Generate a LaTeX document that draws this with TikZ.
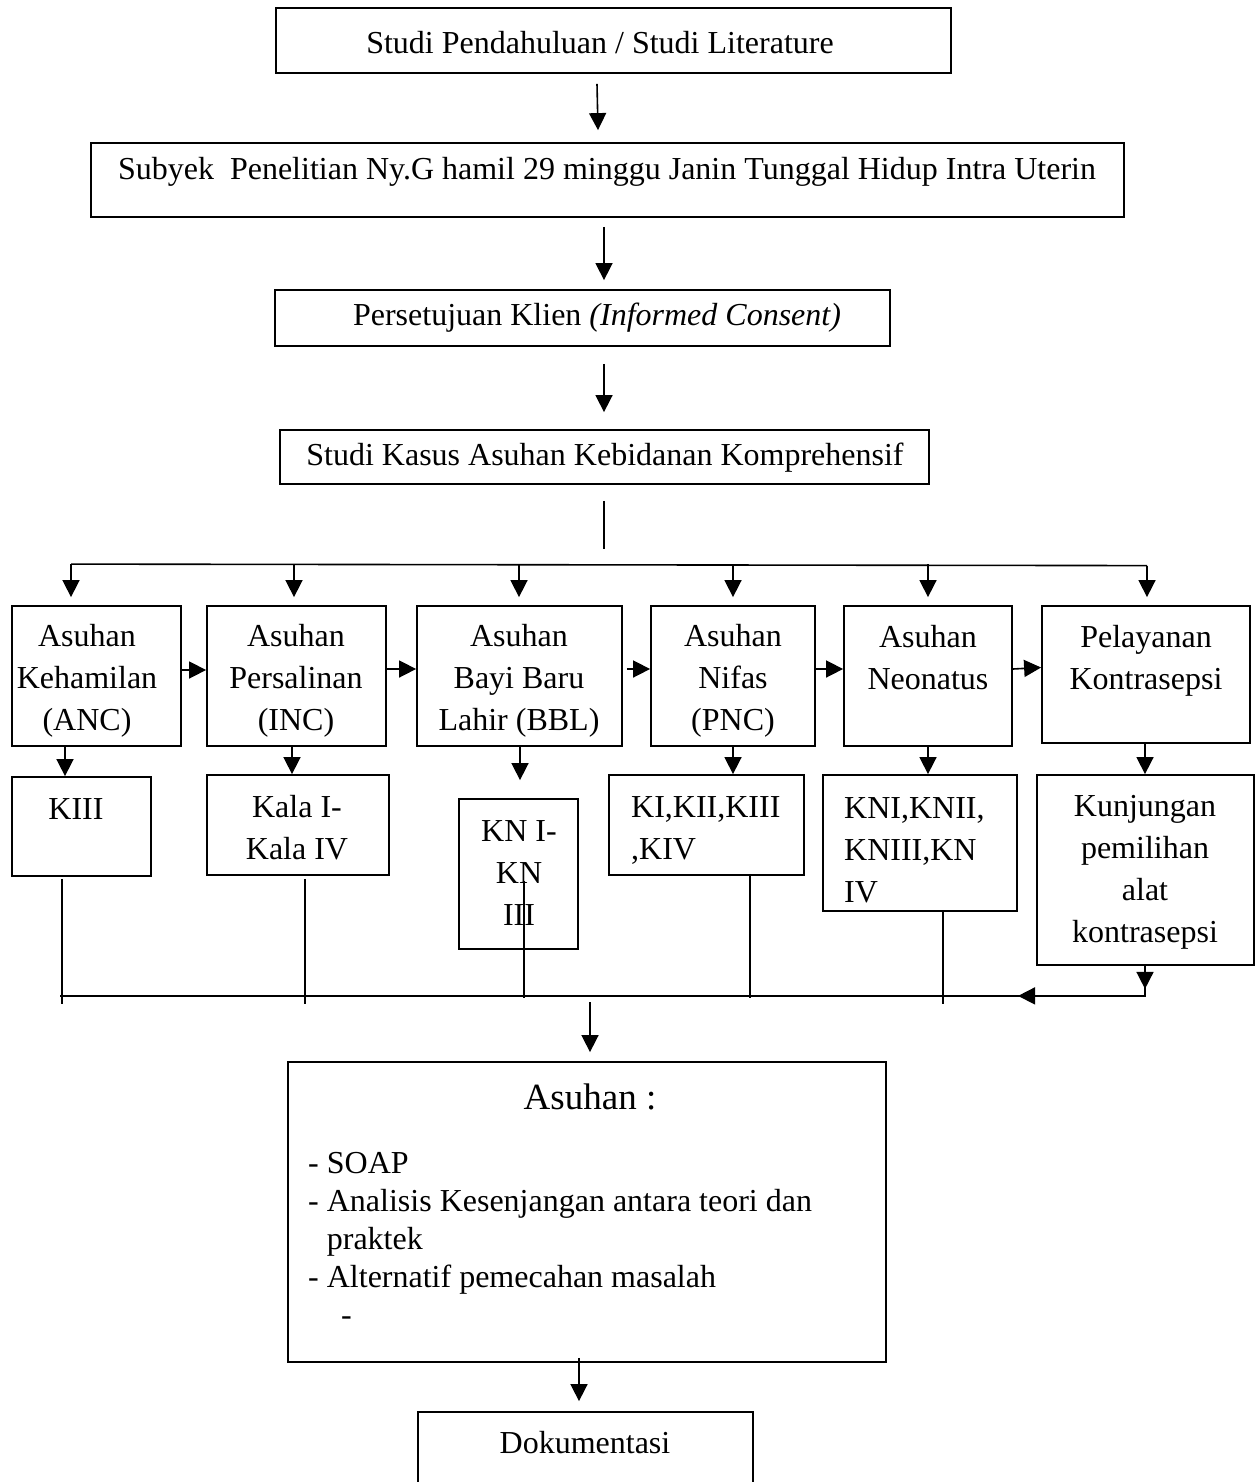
\documentclass[tikz,border=0pt]{standalone}
\usepackage{fontspec}
\setmainfont{Liberation Serif}
\usetikzlibrary{arrows.meta}
\begin{document}
\begin{tikzpicture}[x=1pt,y=-1pt,
  box/.style={draw, line width=1.8pt, inner sep=0pt},
  txt/.style={inner sep=0pt, font=\fontsize{32pt}{42pt}\selectfont, align=center},
  ln/.style={line width=1.6pt},
  arr/.style={line width=1.6pt, -{Triangle[length=17pt,width=17pt]}}]
\useasboundingbox (0,0) rectangle (1259,1482);
\clip (0,0) rectangle (1259,1482);
\fill[white] (0,0) rectangle (1259,1482);

% top boxes
\node[box, minimum width=675pt, minimum height=65pt] (b1) at (613.5,40.5) {};
\node[box, minimum width=1033pt, minimum height=74pt] (b2) at (607.5,180) {};
\node[box, minimum width=615pt, minimum height=56pt] (b3) at (582.5,318) {};
\node[box, minimum width=649pt, minimum height=54pt] (b4) at (604.5,457) {};
\node[txt] (t1) at (600,43) {Studi Pendahuluan / Studi Literature};
\node[txt] (t2) at (607,172) {Subyek\ \ Penelitian Ny.G hamil 29 minggu Janin Tunggal Hidup Intra Uterin};
\node[txt] (t3) at (597,318) {Persetujuan Klien \textit{(Informed Consent)}};
\node[txt] (t4) at (605,458) {Studi Kasus Asuhan Kebidanan Komprehensif};

% row boxes
\node[box, minimum width=169pt, minimum height=140pt] (r1) at (96.5,676) {};
\node[box, minimum width=179pt, minimum height=140pt] (r2) at (296.5,676) {};
\node[box, minimum width=205pt, minimum height=140pt] (r3) at (519.5,676) {};
\node[box, minimum width=164pt, minimum height=140pt] (r4) at (733,676) {};
\node[box, minimum width=168pt, minimum height=140pt] (r5) at (928,676) {};
\node[box, minimum width=208pt, minimum height=137pt] (r6) at (1146,674.5) {};
\node[txt] (rt1) at (87,681) {Asuhan\\Kehamilan\\(ANC)};
\node[txt] (rt2) at (296,681) {Asuhan\\Persalinan\\(INC)};
\node[txt] (rt3) at (519,681) {Asuhan\\Bayi Baru\\Lahir (BBL)};
\node[txt] (rt4) at (733,681) {Asuhan\\Nifas\\(PNC)};
\node[txt] (rt5) at (928,658) {Asuhan\\Neonatus};
\node[txt] (rt6) at (1146,661) {Pelayanan\\Kontrasepsi};

% second row boxes
\node[box, minimum width=139pt, minimum height=99pt] (c1) at (81.5,826.5) {};
\node[box, minimum width=182pt, minimum height=100pt] (c2) at (298,825) {};
\node[box, minimum width=119pt, minimum height=150pt] (c3) at (518.5,874) {};
\node[box, minimum width=195pt, minimum height=100pt] (c4) at (706.5,825) {};
\node[box, minimum width=194pt, minimum height=136pt] (c5) at (920,843) {};
\node[box, minimum width=217pt, minimum height=190pt] (c6) at (1145.5,870) {};
\node[txt] (ct1) at (76,809) {KIII};
\node[txt] (ct2) at (297,828) {Kala I-\\Kala IV};
\node[txt] (ct3) at (519,873) {KN I-\\KN\\III};
\node[txt, align=left, anchor=west] (ct4) at (631,830) {KI,KII,KIII\\,KIV};
\node[txt, align=left, anchor=west] (ct5) at (844,850) {KNI,KNII,\\KNIII,KN\\IV};
\node[txt] (ct6) at (1145,872) {Kunjungan\\pemilihan\\alat\\kontrasepsi};

% bottom boxes
\node[box, minimum width=598pt, minimum height=300pt] (d1) at (587,1212) {};
\node[box, minimum width=335pt, minimum height=88pt] (d2) at (585.5,1456) {};
\node[inner sep=0pt, font=\fontsize{37pt}{44pt}\selectfont] (dt1) at (590,1097) {Asuhan :};
\node[inner sep=0pt, font=\fontsize{32pt}{38pt}\selectfont, align=left, anchor=north west] (dt2) at (308,1152)
  {- SOAP\\- Analisis Kesenjangan antara teori dan\\\hphantom{-\ }praktek\\- Alternatif pemecahan masalah\\\hspace*{33pt}-};
\node[txt] (dt3) at (585,1443) {Dokumentasi};

% top connectors
\draw[arr] ([xshift=-16.5pt,yshift=-10pt]b1.south) -- ([xshift=-9.5pt,yshift=12pt]b2.north);
\draw[arr] ([xshift=-3.5pt,yshift=-9pt]b2.south) -- ([xshift=21.5pt,yshift=9pt]b3.north);
\draw[arr] ([xshift=21.5pt,yshift=-17pt]b3.south) -- ([xshift=-0.5pt,yshift=17pt]b4.north);
\draw[ln] ([xshift=-0.5pt,yshift=-16pt]b4.south) -- ([xshift=-0.5pt,yshift=-64pt]b4.south);

% distribution bus
\draw[ln] ([xshift=-25.5pt,yshift=41pt]r1.north) -- ([xshift=1pt,yshift=39.5pt]r6.north);
\draw[arr] ([xshift=-25.5pt,yshift=41pt]r1.north) -- ([xshift=-25.5pt,yshift=8pt]r1.north);
\draw[arr] ([xshift=-2.5pt,yshift=41pt]r2.north) -- ([xshift=-2.5pt,yshift=8pt]r2.north);
\draw[arr] ([xshift=-0.5pt,yshift=41pt]r3.north) -- ([xshift=-0.5pt,yshift=8pt]r3.north);
\draw[arr] ([yshift=41pt]r4.north) -- ([yshift=8pt]r4.north);
\draw[arr] ([yshift=41pt]r5.north) -- ([yshift=8pt]r5.north);
\draw[arr] ([xshift=1pt,yshift=39.5pt]r6.north) -- ([xshift=1pt,yshift=8pt]r6.north);

% horizontal arrows between row boxes
\draw[arr] ([yshift=6pt]r1.east) -- ([yshift=6pt]r2.west);
\draw[arr] ([yshift=7pt]r2.east) -- ([yshift=7pt]r3.west);
\draw[arr] ([xshift=4pt,yshift=7pt]r3.east) -- ([yshift=7pt]r4.west);
\draw[arr] ([yshift=7pt]r4.east) -- ([yshift=7pt]r5.west);
\draw[arr] ([yshift=7pt]r5.east) -- ([yshift=7pt]r6.west);

% row to second row
\draw[arr] ([xshift=-31.5pt]r1.south) -- ([xshift=-16.5pt]c1.north);
\draw[arr] ([xshift=-4.5pt]r2.south) -- ([xshift=-6pt]c2.north);
\draw[arr] ([xshift=0.5pt]r3.south) -- ([xshift=1.5pt,yshift=18pt]c3.north);
\draw[arr] (r4.south) -- ([xshift=26.5pt]c4.north);
\draw[arr] (r5.south) -- ([xshift=8pt]c5.north);
\draw[arr] ([xshift=-1pt]r6.south) -- ([xshift=-0.5pt]c6.north);

% second row down to collecting bus
\draw[ln] ([xshift=-19.5pt,yshift=-2pt]c1.south) -- ([xshift=-19.5pt,yshift=-127pt]c1.south);
\draw[ln] ([xshift=7pt,yshift=-3pt]c2.south) -- ([xshift=7pt,yshift=-128pt]c2.south);
\draw[ln] ([xshift=5.5pt,yshift=69pt]c3.south) -- ([xshift=5.5pt,yshift=-48pt]c3.south);
\draw[ln] ([xshift=43.5pt,yshift=2pt]c4.south) -- ([xshift=43.5pt,yshift=-122pt]c4.south);
\draw[ln] ([xshift=23pt]c5.south) -- ([xshift=23pt,yshift=-92pt]c5.south);
\draw[ln] ([xshift=-21.5pt,yshift=-119pt]c1.south) -- ([xshift=-85.5pt,yshift=-30pt]c6.south);
\draw[arr] ([xshift=-0.5pt]c6.south) -- ([xshift=-0.5pt,yshift=-23pt]c6.south);
\draw[arr] ([xshift=-0.5pt,yshift=-21pt]c6.south) -- ([xshift=-0.5pt,yshift=-30pt]c6.south) -- ([xshift=-127.5pt,yshift=-30pt]c6.south);

% to Asuhan and Dokumentasi
\draw[arr] ([xshift=3pt,yshift=59pt]d1.north) -- ([xshift=3pt,yshift=9pt]d1.north);
\draw[arr] ([xshift=-8pt,yshift=5pt]d1.south) -- ([xshift=-6.5pt,yshift=10pt]d2.north);
\end{tikzpicture}
\end{document}
